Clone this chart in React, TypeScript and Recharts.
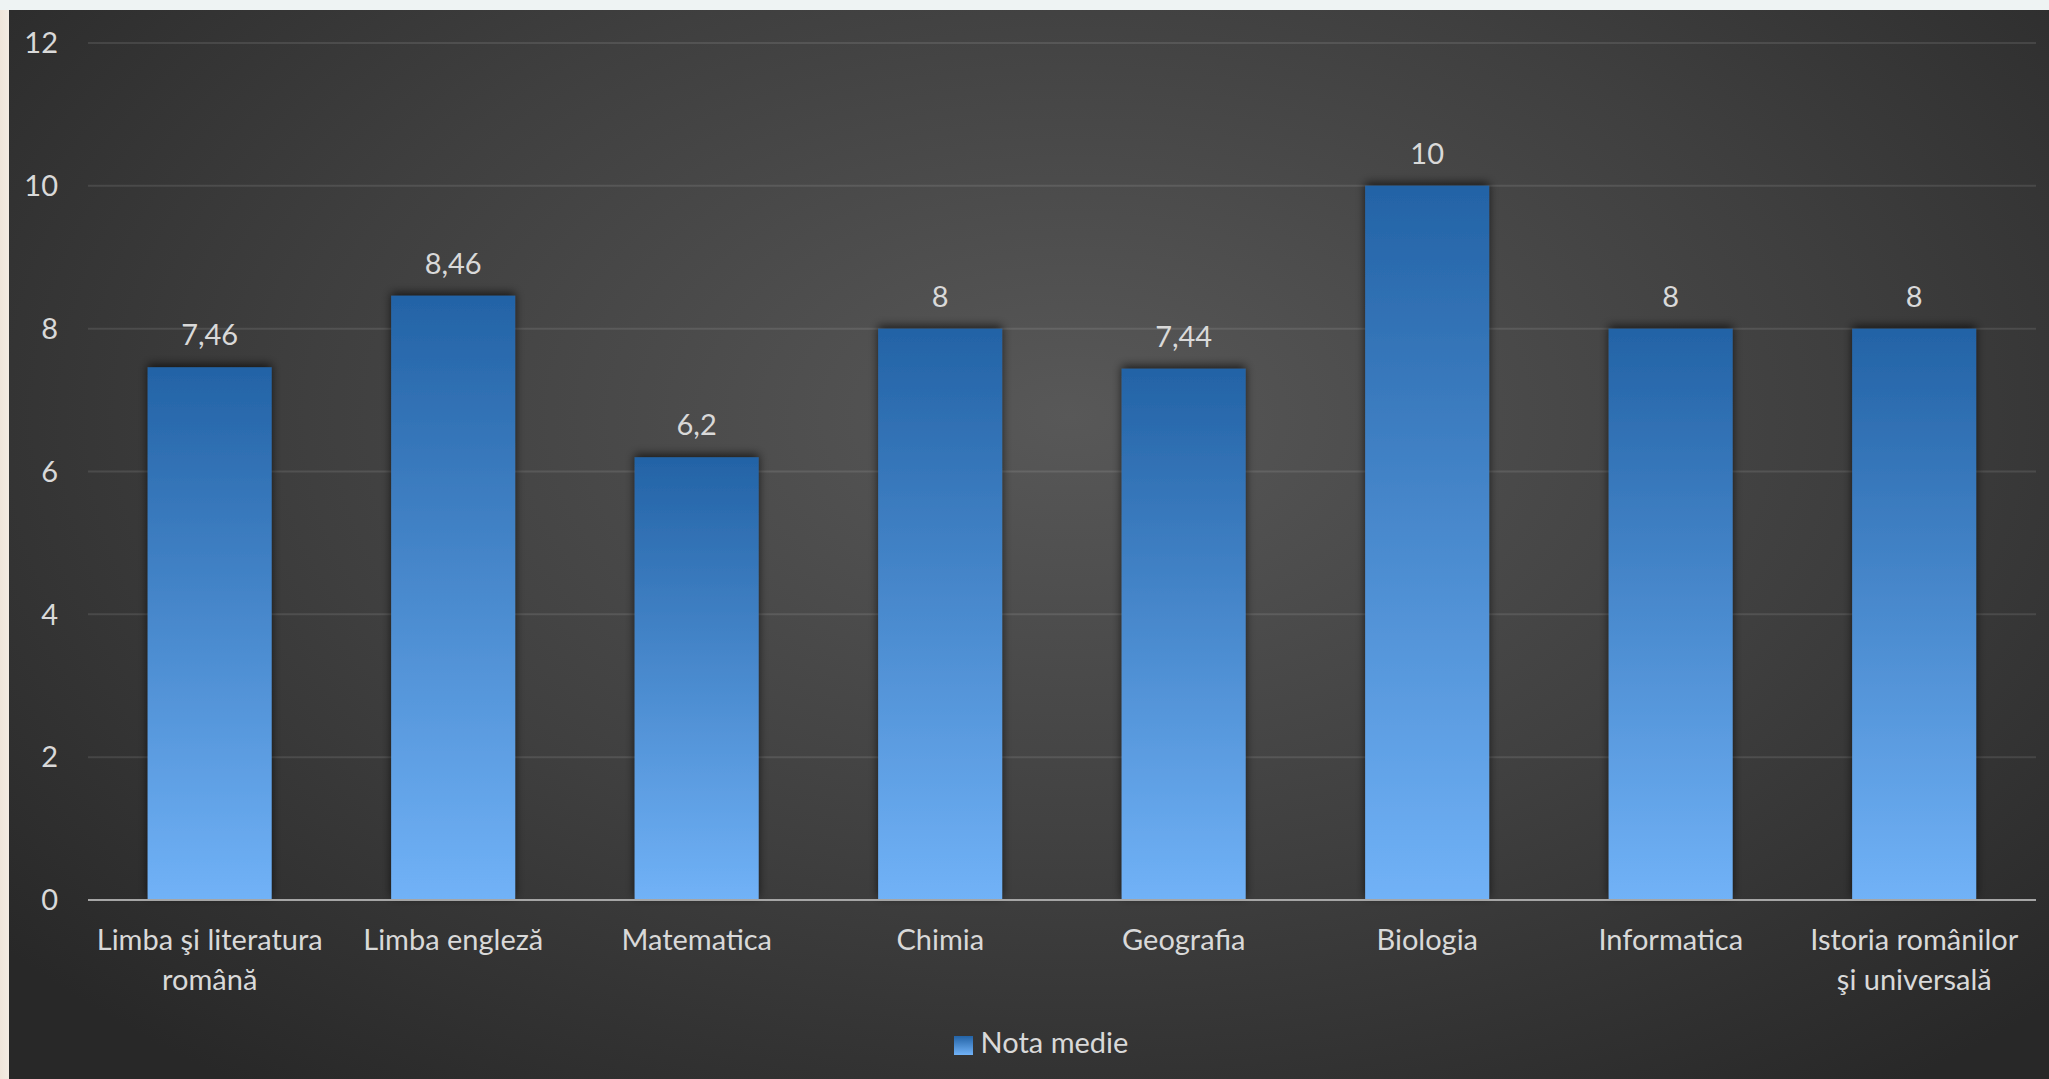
import { BarChart, Bar, XAxis, YAxis, CartesianGrid, Legend, LabelList } from 'recharts';

const subjects = [
  'Limba şi literatura română',
  'Limba engleză',
  'Matematica',
  'Chimia',
  'Geografia',
  'Biologia',
  'Informatica',
  'Istoria românilor şi universală',
];

const notaMedie = [7.46, 8.46, 6.2, 8, 7.44, 10, 8, 8];

const yTicks = [0, 2, 4, 6, 8, 10, 12];

const seriesName = 'Nota medie';

const data = subjects.map((subject, i) => ({ subject, nota: notaMedie[i] }));

const FONT = 'Lato, "Open Sans", sans-serif';
const TEXT = '#d9d9d9';
const FS = 29;

// split long category names onto two lines, like the original
function wrap(label: string, max = 19) {
  const words = label.split(' ');
  const lines: string[] = [];
  let cur = '';
  for (const w of words) {
    const next = cur ? cur + ' ' + w : w;
    if (next.length > max && cur) {
      lines.push(cur);
      cur = w;
    } else {
      cur = next;
    }
  }
  if (cur) lines.push(cur);
  return lines;
}

function CategoryTick(props: any) {
  const { x, y, payload } = props;
  const lines = wrap(payload.value);
  return (
    <text x={x} y={y} textAnchor="middle" fill={TEXT} fontSize={FS} fontFamily={FONT}>
      {lines.map((line, i) => (
        <tspan key={i} x={x} dy={i === 0 ? 42 : 40}>
          {line}
        </tspan>
      ))}
    </text>
  );
}

const fmt = (v: number) => String(v).replace('.', ',');

export default function App() {
  return (
    <div
      style={{
        position: 'absolute',
        left: 0,
        top: 0,
        width: 2049,
        height: 1079,
        background: 'linear-gradient(90deg, #efe5da 0px, #f3ebe2 9px)',
        overflow: 'hidden',
      }}
    >
      <div style={{ position: 'absolute', left: 0, top: 0, width: 2049, height: 10, background: '#eef3f3' }} />
      <div
        style={{
          position: 'absolute',
          left: 9,
          top: 10,
          width: 2040,
          height: 1069,
          background: 'radial-gradient(ellipse 68% 78% at 52% 38%, #585858 0%, #3f3f3f 55%, #282828 100%)',
        }}
      >
        <BarChart
          width={2040}
          height={1069}
          data={data}
          margin={{ top: 33, right: 13, bottom: 79, left: 0 }}
          barCategoryGap="24.5%"
        >
          <defs>
            <linearGradient id="barBlue" x1="0" y1="0" x2="0" y2="1">
              <stop offset="0%" stopColor="#2363a6" />
              <stop offset="100%" stopColor="#71b2f7" />
            </linearGradient>
            <filter id="barShadow" x="-20%" y="-20%" width="140%" height="140%">
              <feDropShadow dx="0" dy="-3" stdDeviation="5" floodColor="#000" floodOpacity="0.65" />
            </filter>
          </defs>
          <CartesianGrid vertical={false} stroke="rgba(255,255,255,0.1)" strokeWidth={2} />
          <XAxis
            dataKey="subject"
            interval={0}
            height={100}
            axisLine={{ stroke: '#a6a6a6', strokeWidth: 2 }}
            tickLine={false}
            tick={<CategoryTick />}
          />
          <YAxis
            domain={[0, 12]}
            ticks={yTicks}
            width={79}
            axisLine={false}
            tickLine={false}
            tickMargin={24}
            tick={{ fill: TEXT, fontSize: FS, fontFamily: FONT }}
          />
          <Legend
            verticalAlign="middle"
            align="center"
            layout="horizontal"
            iconType="square"
            iconSize={19}
            wrapperStyle={{ top: 1014, left: 17, width: 2040, fontFamily: FONT, fontSize: FS }}
            formatter={(value: string) => <span style={{ color: TEXT, marginLeft: 4 }}>{value}</span>}
          />
          <Bar
            dataKey="nota"
            name={seriesName}
            fill="url(#barBlue)"
            filter="url(#barShadow)"
            isAnimationActive={false}
          >
            <LabelList
              dataKey="nota"
              position="top"
              offset={22}
              formatter={(v: any) => fmt(Number(v))}
              fill={TEXT}
              fontSize={FS}
              fontFamily={FONT}
            />
          </Bar>
        </BarChart>
      </div>
    </div>
  );
}
